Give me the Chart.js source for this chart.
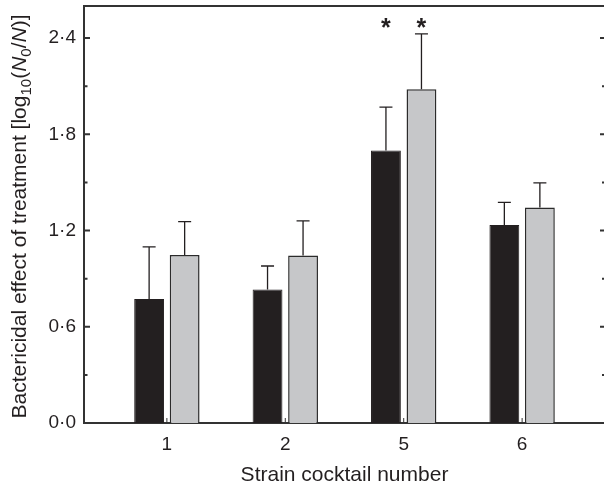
<!DOCTYPE html>
<html>
<head>
<meta charset="utf-8">
<script src="https://cdn.jsdelivr.net/npm/chart.js@4"></script>
<style>
  html, body { margin: 0; padding: 0; background: #fff; overflow: hidden; }
  #wrap { width: 606px; height: 488px; }
</style>
</head>
<body>
<div id="wrap"><canvas id="chart" width="606" height="488"></canvas></div>
<script>
// Strain cocktails on the x axis
const categories = ['1', '2', '5', '6'];

// Black bars
const blackValues = [0.773, 0.832, 1.699, 1.235];
const blackErrors = [0.325, 0.147, 0.270, 0.141];
const blackStars = [false, false, true, false];

// Grey bars
const greyValues = [1.048, 1.044, 2.081, 1.343];
const greyErrors = [0.208, 0.216, 0.345, 0.154];
const greyStars = [false, false, true, false];

// Y ticks (labelled and minor)
const yMajorTicks = [0, 0.6, 1.2, 1.8, 2.4];
const yMinorTicks = [0.3, 0.9, 1.5, 2.1];

const INK = '#231f20';
const FONT = '"Liberation Sans", Arial, Helvetica, sans-serif';
const STAR_LEVEL = 2.5;

const errors = [blackErrors, greyErrors];
const stars = [blackStars, greyStars];

// Error bars, stars, frame and inner ticks
const extrasPlugin = {
    id: 'extras',
    afterDatasetsDraw(chart) {
        const { ctx, scales: { y } } = chart;
        ctx.save();
        ctx.strokeStyle = INK;
        ctx.lineWidth = 1.3;
        chart.data.datasets.forEach((ds, di) => {
            const meta = chart.getDatasetMeta(di);
            meta.data.forEach((bar, i) => {
                const top = y.getPixelForValue(ds.data[i].y + errors[di][i]);
                const yBar = y.getPixelForValue(ds.data[i].y);
                ctx.beginPath();
                ctx.moveTo(bar.x, yBar);
                ctx.lineTo(bar.x, top);
                ctx.moveTo(bar.x - 6.5, top);
                ctx.lineTo(bar.x + 6.5, top);
                ctx.stroke();
                if (stars[di][i]) {
                    ctx.fillStyle = INK;
                    ctx.font = 'bold 25px ' + FONT;
                    ctx.textAlign = 'center';
                    ctx.textBaseline = 'alphabetic';
                    ctx.fillText('*', bar.x, y.getPixelForValue(STAR_LEVEL) + 14);
                }
            });
        });
        ctx.restore();
    },
    afterDraw(chart) {
        const { ctx, chartArea: a, scales: { x, y } } = chart;
        ctx.save();
        ctx.strokeStyle = '#333';
        // top and right border
        ctx.lineWidth = 2;
        ctx.beginPath();
        ctx.moveTo(a.left - 1, a.top);
        ctx.lineTo(a.right + 1, a.top);
        ctx.moveTo(a.right, a.top);
        ctx.lineTo(a.right, a.bottom);
        ctx.stroke();
        // y ticks, inward on both sides
        const drawTick = (v, lenL, lenR) => {
            const py = y.getPixelForValue(v);
            ctx.beginPath();
            ctx.moveTo(a.left, py);
            ctx.lineTo(a.left + lenL, py);
            ctx.moveTo(a.right, py);
            ctx.lineTo(a.right - lenR, py);
            ctx.stroke();
        };
        yMajorTicks.forEach(v => { if (v > 0) drawTick(v, 6, 5); });
        yMinorTicks.forEach(v => drawTick(v, 3.5, 3));
        // x ticks, inward
        ctx.lineWidth = 1;
        categories.forEach((c, i) => {
            const px = x.getPixelForValue(i);
            ctx.beginPath();
            ctx.moveTo(px, a.bottom);
            ctx.lineTo(px, a.bottom - 5);
            ctx.stroke();
        });
        // y title with subscripts and italics
        const parts = [
            { t: 'Bactericidal effect of treatment [log', f: 'n' },
            { t: '10', f: 's' },
            { t: '(', f: 'n' },
            { t: 'N', f: 'i' },
            { t: '0', f: 's' },
            { t: '/', f: 'n' },
            { t: 'N', f: 'i' },
            { t: ')]', f: 'n' }
        ];
        const size = 21;
        const fontOf = f => f === 'i' ? `italic ${size}px ${FONT}`
            : f === 's' ? `${Math.round(size * 0.7)}px ${FONT}` : `${size}px ${FONT}`;
        let total = 0;
        parts.forEach(p => { ctx.font = fontOf(p.f); p.w = ctx.measureText(p.t).width; total += p.w; });
        ctx.translate(26, (a.top + a.bottom) / 2 + 2);
        ctx.rotate(-Math.PI / 2);
        ctx.fillStyle = INK;
        ctx.textBaseline = 'alphabetic';
        ctx.textAlign = 'left';
        let cx = -total / 2;
        parts.forEach(p => {
            ctx.font = fontOf(p.f);
            ctx.fillText(p.t, cx, p.f === 's' ? 5 : 0);
            cx += p.w;
        });
        ctx.restore();
    }
};

const toPoints = values => values.map((v, i) => ({ x: i, y: v }));

// keep the plot box where the reference has it
const noPadding = axis => {
    axis.paddingTop = 0;
    axis.paddingBottom = 0;
    axis.paddingLeft = 0;
    axis.paddingRight = 0;
};

new Chart(document.getElementById('chart'), {
    type: 'bar',
    data: {
        datasets: [{
            label: 'Black',
            data: toPoints(blackValues),
            backgroundColor: INK,
            borderColor: INK,
            borderWidth: 1
        }, {
            label: 'Grey',
            data: toPoints(greyValues),
            backgroundColor: '#c6c7c9',
            borderColor: '#2b2b2b',
            borderWidth: 1.5
        }]
    },
    options: {
        responsive: false,
        animation: false,
        categoryPercentage: 0.6,
        barPercentage: 0.84,
        layout: { padding: { top: 6, right: 1, left: 0, bottom: 0 } },
        plugins: {
            legend: { display: false },
            tooltip: { enabled: false }
        },
        scales: {
            x: {
                type: 'linear',
                min: -0.7,
                max: 3.7,
                offset: false,
                grid: { display: false, drawTicks: false },
                border: { display: true, color: '#333', width: 2 },
                afterBuildTicks: axis => { axis.ticks = categories.map((c, i) => ({ value: i })); },
                afterFit: axis => { axis.height = 65; noPadding(axis); },
                ticks: {
                    callback: v => categories[v],
                    color: INK,
                    font: { family: FONT, size: 19 },
                    padding: 10,
                    maxRotation: 0
                },
                title: {
                    display: true,
                    text: 'Strain cocktail number',
                    color: INK,
                    font: { family: FONT, size: 21 },
                    padding: { top: 0, bottom: 0 }
                }
            },
            y: {
                min: 0,
                max: 2.6,
                grid: { display: false, drawTicks: false },
                border: { display: true, color: '#333', width: 2 },
                afterBuildTicks: axis => { axis.ticks = yMajorTicks.map(v => ({ value: v })); },
                afterFit: axis => { axis.width = 84; noPadding(axis); },
                ticks: {
                    callback: v => v.toFixed(1).replace('.', '\u00b7'),
                    color: INK,
                    font: { family: FONT, size: 19 },
                    padding: 8
                }
            }
        }
    },
    plugins: [extrasPlugin]
});
</script>
</body>
</html>
